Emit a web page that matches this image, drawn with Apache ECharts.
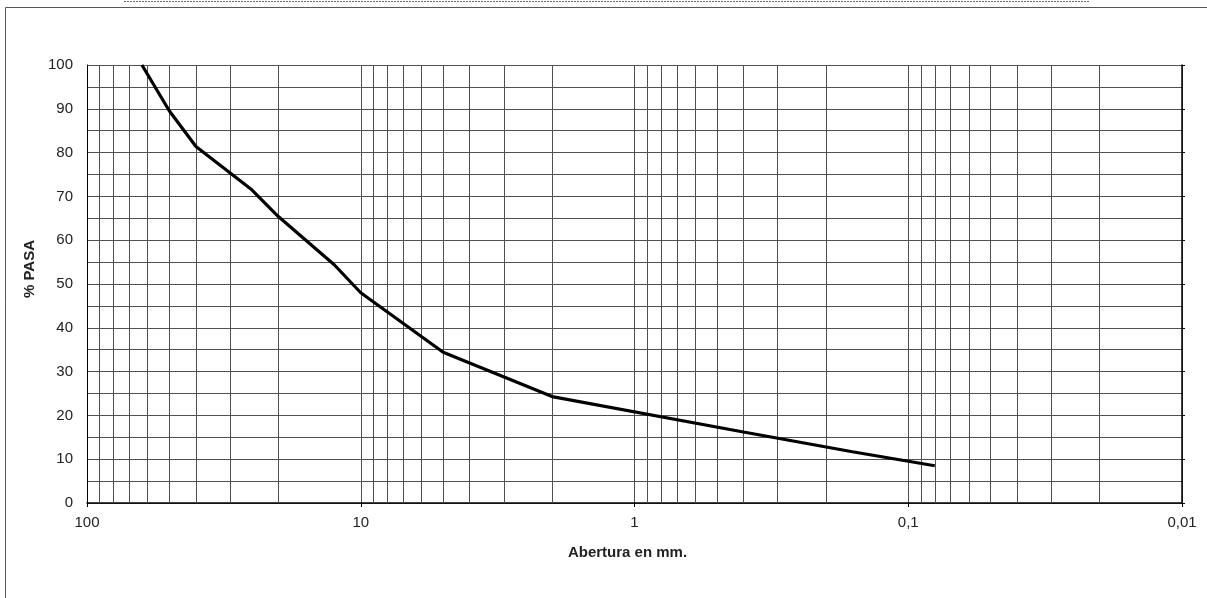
<!DOCTYPE html>
<html>
<head>
<meta charset="utf-8">
<script src="https://cdn.jsdelivr.net/npm/echarts@6/dist/echarts.min.js"></script>
<style>
html,body{margin:0;padding:0;background:#fff;}
#chart{width:1207px;height:598px;}
</style>
</head>
<body>
<div id="chart"></div>
<script>
// Sieve openings (mm) and % passing
var sizes = [63, 50, 40, 25, 20, 12.5, 10, 5, 2, 0.4, 0.16, 0.08];
var passing = [100, 89.5, 81.4, 71.5, 65.4, 54.4, 48.0, 34.4, 24.3, 16.2, 11.7, 8.5];
// Minor vertical grid values (log decades)
var minorGrid = [90,80,70,60,50,40,30,20, 9,8,7,6,5,4,3,2, 0.9,0.8,0.7,0.6,0.5,0.4,0.3,0.2, 0.09,0.08,0.07,0.06,0.05,0.04,0.03,0.02];
var yTicks = [0,10,20,30,40,50,60,70,80,90,100];
var xName = 'Abertura en mm.';
var yName = '% PASA';

var FONT = '"Liberation Sans", Arial, sans-serif';
var GRID_COLOR = '#505050';

var chart = echarts.init(document.getElementById('chart'), null, {renderer:'canvas'});
var curve = sizes.map(function(s,i){ return [s, passing[i]]; });

var option = {
  animation:false,
  backgroundColor:'#fff',
  grid:{left:87, right:25, top:65, bottom:95, containLabel:false},
  xAxis:{
    type:'log', logBase:10, min:0.01, max:100, inverse:true,
    name:xName, nameLocation:'middle', nameGap:42,
    nameTextStyle:{fontFamily:FONT, fontSize:15, fontWeight:'bold', color:'#222', padding:[0,14,0,0]},
    axisLine:{show:true, lineStyle:{color:'#000', width:1.5}},
    axisTick:{show:true, length:4, lineStyle:{color:'#000'}},
    axisLabel:{fontFamily:FONT, fontSize:15, color:'#222', margin:12,
      formatter:function(v){ return String(+(+v).toPrecision(6)).replace('.', ','); }},
    splitLine:{show:true, lineStyle:{color:GRID_COLOR, width:1}}
  },
  yAxis:[{
    type:'value', min:0, max:100, interval:10,
    name:yName, nameLocation:'middle', nameGap:37,
    nameTextStyle:{fontFamily:FONT, fontSize:15, fontWeight:'bold', color:'#222', padding:[0,0,0,30]},
    axisLine:{show:true, lineStyle:{color:'#000', width:1}},
    axisTick:{show:false},
    axisLabel:{fontFamily:FONT, fontSize:15, color:'#222', margin:14,
      formatter:function(v){ return yTicks.indexOf(v) >= 0 ? String(v) : ''; }},
    splitLine:{show:true, lineStyle:{color:GRID_COLOR, width:1}},
    minorTick:{show:false, splitNumber:2},
    minorSplitLine:{show:true, lineStyle:{color:GRID_COLOR, width:1}}
  },{
    type:'value', min:0, max:100, interval:10, position:'right',
    axisLine:{show:true, lineStyle:{color:'#000', width:1.5}},
    axisTick:{show:true, inside:false, length:3, lineStyle:{color:'#000'}},
    axisLabel:{show:false},
    splitLine:{show:false}
  }],
  series:[{
    type:'line', data:[], silent:true,
    markLine:{
      silent:true, symbol:['none','none'], animation:false,
      label:{show:false},
      lineStyle:{color:GRID_COLOR, width:1, type:'solid'},
      data:minorGrid.map(function(v){ return {xAxis:v}; })
    }
  },{
    type:'line', data:curve, showSymbol:false, symbol:'none', smooth:false,
    lineStyle:{color:'#000', width:3.2},
    z:5
  }],
  graphic:[
    {type:'line', shape:{x1:5.5, y1:7.5, x2:1207, y2:7.5}, style:{stroke:'#555', lineWidth:1}, silent:true},
    {type:'line', shape:{x1:5.5, y1:7.5, x2:5.5, y2:598}, style:{stroke:'#555', lineWidth:1}, silent:true},
    {type:'line', shape:{x1:124, y1:1.5, x2:1090, y2:1.5}, style:{stroke:'#666', lineWidth:1, lineDash:[2,1]}, silent:true}
  ]
};
chart.setOption(option);
</script>
</body>
</html>
